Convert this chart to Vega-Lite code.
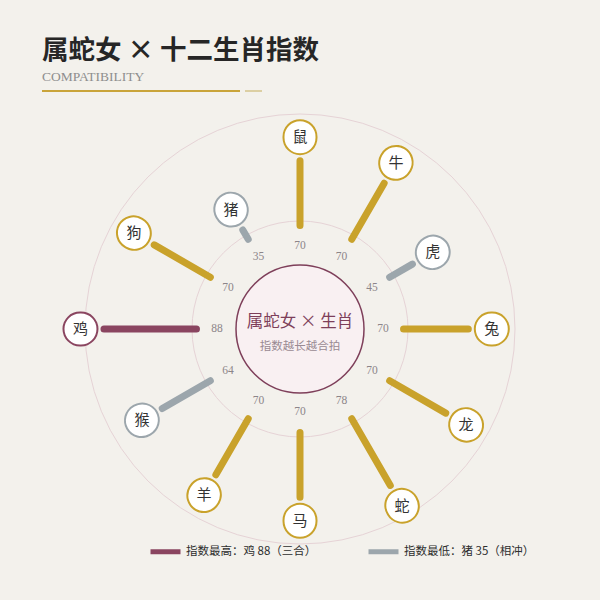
{
  "$schema": "https://vega.github.io/schema/vega-lite/v6.json",
  "width": 600,
  "height": 542,
  "autosize": {"type": "none"},
  "padding": {"left": 0, "right": 0, "top": 58, "bottom": 0},
  "background": "#F3F1EC",
  "config": {"view": {"stroke": null}},
  "title": {
    "text": "属蛇女 × 十二生肖指数",
    "subtitle": "COMPATIBILITY",
    "anchor": "start",
    "frame": "group",
    "dx": 42,
    "offset": -25,
    "font": "Noto Sans CJK SC",
    "fontSize": 26.5,
    "fontWeight": "bold",
    "color": "#262626",
    "subtitleFont": "Liberation Serif",
    "subtitleFontSize": 13.5,
    "subtitleColor": "#8E8E8E",
    "subtitlePadding": 5
  },
  "data": {
    "values": [
      {"sign": "鼠", "pos": 0, "value": 70, "tier": "良好"},
      {"sign": "牛", "pos": 1, "value": 70, "tier": "良好"},
      {"sign": "虎", "pos": 2, "value": 45, "tier": "偏低"},
      {"sign": "兔", "pos": 3, "value": 70, "tier": "良好"},
      {"sign": "龙", "pos": 4, "value": 70, "tier": "良好"},
      {"sign": "蛇", "pos": 5, "value": 78, "tier": "良好"},
      {"sign": "马", "pos": 6, "value": 70, "tier": "良好"},
      {"sign": "羊", "pos": 7, "value": 70, "tier": "良好"},
      {"sign": "猴", "pos": 8, "value": 64, "tier": "偏低"},
      {"sign": "鸡", "pos": 9, "value": 88, "tier": "最高"},
      {"sign": "狗", "pos": 10, "value": 70, "tier": "良好"},
      {"sign": "猪", "pos": 11, "value": 35, "tier": "偏低"}
    ]
  },
  "layer": [
    {
      "data": {"values": [{"ring": "outer"}]},
      "mark": {"type": "arc", "theta": 0, "theta2": 6.2832, "radius": 215, "fill": null, "stroke": "#E6D3D6", "strokeWidth": 1},
      "encoding": {}
    },
    {
      "data": {"values": [{"ring": "inner"}]},
      "mark": {"type": "arc", "theta": 0, "theta2": 6.2832, "radius": 108, "fill": null, "stroke": "#E6D3D6", "strokeWidth": 1},
      "encoding": {}
    },
    {
      "data": {"values": [{"ring": "core"}]},
      "mark": {"type": "arc", "theta": 0, "theta2": 6.2832, "radius": 64, "fill": "#F9F0F2", "stroke": "#7E3F5A", "strokeWidth": 1.5},
      "encoding": {}
    },
    {
      "mark": {"type": "arc", "strokeWidth": 7, "strokeJoin": "round", "strokeCap": "round", "radiusOffset": -3.5, "radius2Offset": 3.5},
      "encoding": {
        "theta": {"field": "pos", "type": "quantitative", "stack": false, "scale": {"type": "linear", "domain": [0, 12], "range": [0, 6.283185307179586], "zero": false, "nice": false}},
        "theta2": {"field": "pos"},
        "radius": {"field": "value", "type": "quantitative", "scale": {"type": "linear", "domain": [0, 100], "range": [64, 218], "zero": false, "nice": false}},
        "radius2": {"datum": 23.4},
        "stroke": {
          "field": "tier",
          "type": "nominal",
          "scale": {"domain": ["最高", "良好", "偏低"], "range": ["#8A4560", "#C9A22B", "#9CA6AC"]},
          "legend": {
            "orient": "none",
            "legendX": 148,
            "legendY": 476,
            "direction": "horizontal",
            "title": null,
            "values": ["最高", "偏低"],
            "labelExpr": "datum.label == '最高' ? '指数最高：鸡 88（三合）' : '指数最低：猪 35（相冲）'",
            "symbolType": "stroke",
            "symbolSize": 900,
            "symbolStrokeWidth": 5,
            "labelFont": "Noto Sans CJK SC",
            "labelFontSize": 11.5,
            "labelColor": "#2E2E2E",
            "labelOffset": 3,
            "columnPadding": 41
          }
        }
      }
    },
    {
      "mark": {"type": "arc", "strokeWidth": 35, "strokeJoin": "round", "strokeCap": "round", "radiusOffset": 20.5, "radius2Offset": 19.5},
      "encoding": {
        "theta": {"field": "pos", "type": "quantitative", "stack": false, "scale": {"type": "linear", "domain": [0, 12], "range": [0, 6.283185307179586], "zero": false, "nice": false}},
        "theta2": {"field": "pos"},
        "radius": {"field": "value", "type": "quantitative", "scale": {"type": "linear", "domain": [0, 100], "range": [64, 218], "zero": false, "nice": false}},
        "radius2": {"field": "value"},
        "stroke": {"field": "tier", "type": "nominal", "scale": {"domain": ["最高", "良好", "偏低"], "range": ["#8A4560", "#C9A22B", "#9CA6AC"]}, "legend": null}
      }
    },
    {
      "mark": {"type": "arc", "stroke": "#FFFFFF", "strokeWidth": 31, "strokeJoin": "round", "strokeCap": "round", "radiusOffset": 20.5, "radius2Offset": 19.5},
      "encoding": {
        "theta": {"field": "pos", "type": "quantitative", "stack": false, "scale": {"type": "linear", "domain": [0, 12], "range": [0, 6.283185307179586], "zero": false, "nice": false}},
        "theta2": {"field": "pos"},
        "radius": {"field": "value", "type": "quantitative", "scale": {"type": "linear", "domain": [0, 100], "range": [64, 218], "zero": false, "nice": false}},
        "radius2": {"field": "value"}
      }
    },
    {
      "mark": {"type": "text", "radiusOffset": 20, "font": "Noto Sans CJK SC", "fontSize": 15, "color": "#333333", "align": "center", "baseline": "middle"},
      "encoding": {
        "theta": {"field": "pos", "type": "quantitative", "stack": false, "scale": {"type": "linear", "domain": [0, 12], "range": [0, 6.283185307179586], "zero": false, "nice": false}},
        "radius": {"field": "value", "type": "quantitative", "scale": {"type": "linear", "domain": [0, 100], "range": [64, 218], "zero": false, "nice": false}},
        "text": {"field": "sign"}
      }
    },
    {
      "mark": {"type": "text", "radiusOffset": 19, "font": "Liberation Serif", "fontSize": 11.5, "color": "#8C8589", "align": "center", "baseline": "middle"},
      "encoding": {
        "theta": {"field": "pos", "type": "quantitative", "stack": false, "scale": {"type": "linear", "domain": [0, 12], "range": [0, 6.283185307179586], "zero": false, "nice": false}},
        "radius": {"datum": 0},
        "text": {"field": "value"}
      }
    },
    {
      "data": {"values": [{"line": "属蛇女 × 生肖"}]},
      "mark": {"type": "text", "font": "Noto Sans CJK SC", "fontSize": 16.5, "color": "#7E3F5A", "align": "center", "baseline": "middle", "dy": -7},
      "encoding": {"text": {"field": "line"}}
    },
    {
      "data": {"values": [{"line": "指数越长越合拍"}]},
      "mark": {"type": "text", "font": "Noto Sans CJK SC", "fontSize": 11.5, "color": "#9A8A93", "align": "center", "baseline": "middle", "dy": 18},
      "encoding": {"text": {"field": "line"}}
    },
    {
      "data": {"values": [{"part": "main"}]},
      "mark": {"type": "rule", "stroke": "#C9A43A", "strokeWidth": 2},
      "encoding": {"x": {"value": 42}, "x2": {"value": 240}, "y": {"value": 33}}
    },
    {
      "data": {"values": [{"part": "tail"}]},
      "mark": {"type": "rule", "stroke": "#DCCFA3", "strokeWidth": 2},
      "encoding": {"x": {"value": 245}, "x2": {"value": 262}, "y": {"value": 33}}
    }
  ]
}
